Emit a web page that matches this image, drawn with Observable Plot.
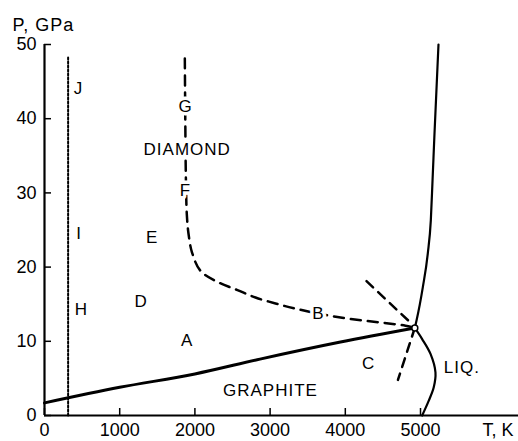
<!DOCTYPE html>
<html>
<head>
<meta charset="utf-8">
<script src="https://cdn.jsdelivr.net/npm/d3@7"></script>
<script src="https://cdn.jsdelivr.net/npm/@observablehq/plot@0.6"></script>
<style>
  html, body { margin: 0; padding: 0; background: #fff; }
  svg { display: block; }
</style>
</head>
<body>
<div id="chart"></div>
<script>
// ---- data (T in K, P in GPa) ----
const xTicks = [0, 1000, 2000, 3000, 4000, 5000];
const yTicks = [0, 10, 20, 30, 40, 50];
const xTitle = ["T, K"];
const yTitle = ["P, GPa"];

// graphite / diamond equilibrium line
const graphiteDiamondT = [0, 1000, 2000, 2865, 3936, 4924];
const graphiteDiamondP = [1.7, 3.8, 5.6, 7.6, 9.9, 11.8];

// graphite melting curve
const graphiteMeltT = [4924, 5022, 5133, 5199, 5176, 5110, 5022];
const graphiteMeltP = [11.8, 10.3, 8.3, 5.8, 3.8, 2.0, 0];

// diamond melting curve
const diamondMeltT = [4924, 4947, 5031, 5097, 5137, 5160, 5186, 5239];
const diamondMeltP = [11.8, 12.8, 17.3, 21.85, 26.3, 31.7, 38.0, 50];

// dashed kinetic boundary (G-F ... B)
const kineticT = [1866, 1872, 1880, 1893, 1915, 1961, 2074, 2301, 2566, 2806, 3072, 3338, 3936, 4800, 4924];
const kineticP = [48.1, 40, 32, 27, 24.5, 22.0, 19.5, 18.0, 16.9, 15.9, 15.1, 14.4, 13.2, 12.1, 11.8];

// dashed line from upper left into triple point
const upperDashT = [4282, 4900];
const upperDashP = [18.1, 12.2];

// dashed line from triple point down-left
const lowerDashT = [4924, 4700];
const lowerDashP = [11.8, 4.8];

// dotted line (room temperature)
const dottedT = [314, 314];
const dottedP = [0, 48.4];

// triple point
const tripleT = [4924];
const tripleP = [11.8];

// region labels
const labelText = ["J", "G", "DIAMOND", "F", "I", "E", "H", "D", "A", "GRAPHITE", "B", "C", "LIQ."];
const labelT = [452, 1875, 1898, 1875, 461, 1432, 492, 1286, 1898, 3005, 3644, 4309, 5549];
const labelP = [44.1, 41.7, 35.9, 30.3, 24.5, 24.0, 14.3, 15.3, 10.1, 3.4, 13.7, 7.0, 6.5];

// ---- build tables ----
const zipTP = (T, P) => T.map((t, i) => ({T: t, P: P[i]}));
const gd = zipTP(graphiteDiamondT, graphiteDiamondP);
const gm = zipTP(graphiteMeltT, graphiteMeltP);
const dm = zipTP(diamondMeltT, diamondMeltP);
const kin = zipTP(kineticT, kineticP);
const ud = zipTP(upperDashT, upperDashP);
const ld = zipTP(lowerDashT, lowerDashP);
const dot = zipTP(dottedT, dottedP);
const tp = zipTP(tripleT, tripleP);
const labels = labelText.map((s, i) => ({s, T: labelT[i], P: labelP[i]}));

const font = "'Liberation Sans', Arial, Helvetica, sans-serif";

const chart = Plot.plot({
  width: 518,
  height: 441,
  marginLeft: 44,
  marginRight: 0,
  marginTop: 44,
  marginBottom: 26,
  style: {fontFamily: font, fontSize: "18px", background: "#fff", color: "#000", overflow: "visible"},
  x: {domain: [0, 6303], label: null},
  y: {domain: [0, 50], label: null},
  marks: [
    // tick marks pointing inward
    Plot.axisX({ticks: xTicks, tickSize: -7, text: null, strokeWidth: 1.5, label: null}),
    Plot.axisX({ticks: xTicks, tickSize: 0, tickPadding: 8, tickFormat: "d", fontSize: 18, label: null}),
    Plot.axisY({ticks: yTicks, tickSize: -7, text: null, strokeWidth: 1.5, label: null}),
    Plot.axisY({ticks: yTicks, tickSize: 0, tickPadding: 8, tickFormat: "d", fontSize: 18, label: null}),
    // axis lines
    Plot.ruleY([0], {strokeWidth: 2}),
    Plot.ruleX([0], {y1: 0, y2: 50, strokeWidth: 2.2}),
    // dotted line
    Plot.line(dot, {x: "T", y: "P", strokeWidth: 2, strokeDasharray: "2,2"}),
    // graphite-diamond line
    Plot.line(gd, {x: "T", y: "P", strokeWidth: 3, curve: "monotone-x"}),
    // melting curves
    Plot.line(gm, {x: "T", y: "P", strokeWidth: 2.2, curve: "catmull-rom"}),
    Plot.line(dm, {x: "T", y: "P", strokeWidth: 2.2, curve: "monotone-x"}),
    // dashed lines
    Plot.line(kin, {x: "T", y: "P", strokeWidth: 2.5, strokeDasharray: "10,7", curve: "catmull-rom"}),
    Plot.line(ud, {x: "T", y: "P", strokeWidth: 2.5, strokeDasharray: "9,7"}),
    Plot.line(ld, {x: "T", y: "P", strokeWidth: 2.5, strokeDasharray: "9,7"}),
    // triple point
    Plot.dot(tp, {x: "T", y: "P", r: 3, fill: "#fff", stroke: "#000", strokeWidth: 1.5}),
    // region labels
    Plot.text(labels, {x: "T", y: "P", text: "s", fontSize: 17, fill: "#000", stroke: "#fff", strokeWidth: 7, paintOrder: "stroke"}),
    // axis titles
    Plot.text(yTitle, {frameAnchor: "top-left", lineAnchor: "middle", text: d => d, dx: -32, dy: -19, textAnchor: "start", fontSize: 18}),
    Plot.text(xTitle, {frameAnchor: "bottom-right", lineAnchor: "middle", text: d => d, dx: -5, dy: 15, textAnchor: "end", fontSize: 18})
  ]
});
const spaced = new Set([...labelText, ...yTitle]);
chart.querySelectorAll("text").forEach(t => {
  if (spaced.has(t.textContent)) t.setAttribute("letter-spacing", "1");
});
document.getElementById("chart").appendChild(chart);
</script>
</body>
</html>
